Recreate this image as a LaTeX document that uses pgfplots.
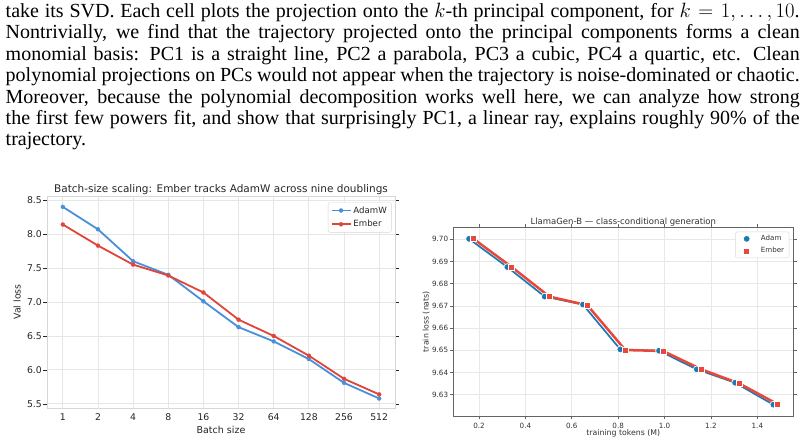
\documentclass[border=0pt]{standalone}
\usepackage{fontspec}
\setmainfont{Liberation Serif}
\newfontfamily\djv{DejaVu Sans}
\usepackage{pgfplots}
\pgfplotsset{compat=1.18}

% colours
\definecolor{lblue}{RGB}{74,144,217}
\definecolor{lred}{RGB}{224,69,58}
\definecolor{rblue}{RGB}{31,119,180}
\definecolor{rred}{RGB}{232,72,58}
\definecolor{lgrid}{RGB}{230,230,230}
\definecolor{lspine}{RGB}{215,215,215}
\definecolor{ltext}{RGB}{38,38,38}
\definecolor{rgrid}{RGB}{232,232,232}
\definecolor{rspine}{RGB}{100,100,100}
\definecolor{rtext}{RGB}{50,50,50}

% batch-size sweep: index, AdamW, Ember
\pgfplotstableread{
idx adamw ember
0 8.40 8.14
1 8.07 7.83
2 7.60 7.55
3 7.40 7.39
4 7.01 7.14
5 6.63 6.74
6 6.42 6.50
7 6.16 6.21
8 5.81 5.87
9 5.58 5.64
}\batchdata

% LlamaGen-B training loss
\pgfplotstableread{
tok loss
0.157 9.7002
0.322 9.6875
0.483 9.6742
0.648 9.6706
0.809 9.6504
0.976 9.6498
1.139 9.6414
1.304 9.6354
1.469 9.6255
}\adamdata
\pgfplotstableread{
tok loss
0.175 9.7003
0.341 9.6875
0.503 9.6742
0.667 9.6703
0.831 9.6501
0.993 9.6497
1.159 9.6414
1.323 9.6350
1.486 9.6258
}\emberdata

\newcommand\bodyline[1]{\makebox[794bp][s]{#1}}

\begin{document}
\begin{tikzpicture}
\useasboundingbox (0,0) rectangle (807bp,444bp);
\fill[white] (0,0) rectangle (807bp,444bp);

% running text above the figures
\begin{scope}[every node/.style={anchor=base west, inner sep=0pt, font=\fontsize{20bp}{21.45bp}\selectfont}]
\node at (5.5bp,426.7bp) {\bodyline{take its SVD. Each cell plots the projection onto the $k$-th principal component, for $k = 1, \ldots, 10$.}};
\node at (5.5bp,405.25bp) {\bodyline{Nontrivially, we find that the trajectory projected onto the principal components forms a clean}};
\node at (5.5bp,383.8bp) {\bodyline{monomial basis: PC1 is a straight line, PC2 a parabola, PC3 a cubic, PC4 a quartic, etc. Clean}};
\node at (5.5bp,362.35bp) {\bodyline{polynomial projections on PCs would not appear when the trajectory is noise-dominated or chaotic.}};
\node at (5.5bp,340.9bp) {\bodyline{Moreover, because the polynomial decomposition works well here, we can analyze how strong}};
\node at (5.5bp,319.45bp) {\bodyline{the first few powers fit, and show that surprisingly PC1, a linear ray, explains roughly 90\% of the}};
\node at (5.5bp,298bp) {trajectory.};
\end{scope}

% left panel: batch-size scaling
\begin{axis}[
  at={(47bp,36bp)}, anchor=south west,
  scale only axis, width=348bp, height=212bp,
  xmin=-0.45, xmax=9.45, ymin=5.44, ymax=8.56,
  xtick={0,...,9}, xticklabels={1,2,4,8,16,32,64,128,256,512},
  ytick={5.5,6,6.5,7,7.5,8,8.5},
  /pgf/number format/assume math mode=true,
  yticklabel={\pgfmathprintnumber[fixed,fixed zerofill,precision=1]{\tick}},
  font=\djv,
  ticklabel style={font=\djv\fontsize{9.3bp}{11bp}\selectfont, text=ltext, inner sep=0pt},
  yticklabel style={anchor=east, xshift=-1.5bp},
  xticklabel style={anchor=north, yshift=-1.8bp},
  axis line style={draw=lspine, line width=0.9bp},
  grid=major, major grid style={draw=lgrid, line width=0.9bp},
  tick align=outside, major tick length=3.5bp,
  ytick style={draw=ltext, line width=0.7bp},
  xtick style={draw=none},
  every axis title shift=0pt,
  title={Batch-size scaling: Ember tracks AdamW across nine doublings},
  title style={at={(axis description cs:0.5,1.0165)}, anchor=base, inner sep=0pt,
    font=\djv\fontsize{10.5bp}{12bp}\selectfont, text=ltext},
  xlabel={Batch size},
  xlabel style={at={(axis description cs:0.5,-0.1226)}, anchor=base, inner sep=0pt,
    font=\djv\fontsize{9.5bp}{11bp}\selectfont, text=ltext},
  ylabel={Val loss},
  ylabel style={at={(axis description cs:-0.0761,0.5)}, anchor=base, inner sep=0pt,
    font=\djv\fontsize{9.3bp}{11bp}\selectfont, text=ltext},
  legend style={at={(1,1)}, anchor=north east, xshift=-3.5bp, yshift=-6.3bp,
    draw=lspine, rounded corners=2bp, fill=white, inner xsep=2.5bp, inner ysep=2bp,
    font=\djv\fontsize{8.6bp}{10bp}\selectfont, text=ltext, row sep=1.8bp},
  legend cell align=left,
  legend image code/.code={\draw[mark repeat=2, mark phase=2, #1]
    plot coordinates {(0bp,0bp) (9.5bp,0bp) (19bp,0bp)};},
]
\addplot[lblue, line width=1.8bp, mark=*, mark size=2bp, mark options={fill=lblue, draw=lblue, line width=0.3bp}]
  table[x=idx, y=adamw] {\batchdata};
\addlegendentry{AdamW}
\addplot[lred, line width=1.8bp, mark=*, mark size=2bp, mark options={fill=lred, draw=lred, line width=0.3bp}]
  table[x=idx, y=ember] {\batchdata};
\addlegendentry{Ember}
\end{axis}

% right panel: LlamaGen-B
\begin{axis}[
  at={(453.3bp,28bp)}, anchor=south west,
  scale only axis, width=340bp, height=188.7bp,
  xmin=0.089, xmax=1.555, ymin=9.6204, ymax=9.7054,
  xtick={0.2,0.4,0.6,0.8,1.0,1.2,1.4},
  ytick={9.63,9.64,9.65,9.66,9.67,9.68,9.69,9.70},
  /pgf/number format/assume math mode=true,
  xticklabel={\pgfmathprintnumber[fixed,fixed zerofill,precision=1]{\tick}},
  yticklabel={\pgfmathprintnumber[fixed,fixed zerofill,precision=2]{\tick}},
  font=\djv,
  ticklabel style={font=\djv\fontsize{7.2bp}{9bp}\selectfont, text=rtext, inner sep=0pt},
  yticklabel style={anchor=east, xshift=-1.8bp},
  xticklabel style={anchor=north, yshift=-3.5bp},
  axis line style={draw=rspine, line width=0.9bp},
  grid=major, major grid style={draw=rgrid, line width=0.7bp},
  tick align=outside, major tick length=3.2bp,
  tick style={draw=rspine, line width=0.7bp},
  every axis title shift=0pt,
  title={LlamaGen-B — class-conditional generation},
  title style={at={(axis description cs:0.5,1.0175)}, anchor=base, inner sep=0pt,
    font=\djv\fontsize{8.5bp}{10bp}\selectfont, text=rtext},
  xlabel={training tokens (M)},
  xlabel style={at={(axis description cs:0.5,-0.1035)}, anchor=base, inner sep=0pt,
    font=\djv\fontsize{7.8bp}{9bp}\selectfont, text=rtext},
  ylabel={train loss (nats)},
  ylabel style={at={(axis description cs:-0.0725,0.5)}, anchor=base, inner sep=0pt,
    font=\djv\fontsize{7.8bp}{9bp}\selectfont, text=rtext},
  legend style={at={(1,1)}, anchor=north east, xshift=-4bp, yshift=-4.4bp,
    draw=black!15, rounded corners=2bp, fill=white, inner xsep=3bp, inner ysep=1.5bp,
    font=\djv\fontsize{7.1bp}{9bp}\selectfont, text=rtext, row sep=1.2bp},
  legend cell align=left,
  legend image code/.code={\path (0bp,0bp) (18bp,0bp); \path[#1] plot coordinates {(7bp,0bp)};},
]
\addplot[rblue, line width=1.7bp, mark=*, mark size=3.4bp,
  mark options={fill=rblue, draw=white, line width=0.7bp}]
  table[x=tok, y=loss] {\adamdata};
\addlegendentry{Adam}
\addplot[rred, line width=2.5bp, mark=square*, mark size=3bp,
  mark options={fill=rred, draw=white, line width=0.7bp}]
  table[x=tok, y=loss] {\emberdata};
\addlegendentry{Ember}
\end{axis}
\end{tikzpicture}
\end{document}
